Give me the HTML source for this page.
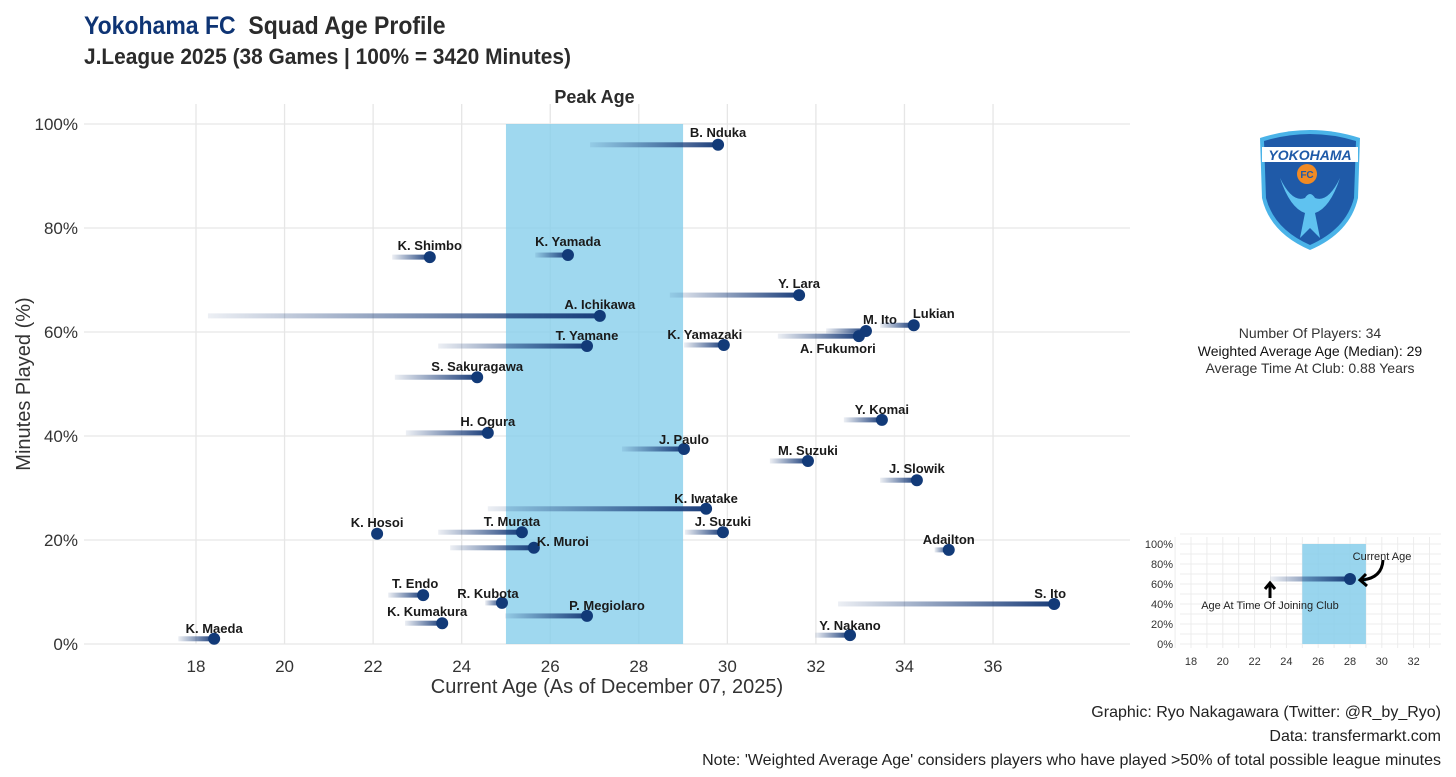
<!DOCTYPE html>
<html><head><meta charset="utf-8"><style>
body{margin:0;background:#fff;width:1456px;height:777px;overflow:hidden;font-family:"Liberation Sans Narrow","Liberation Sans",sans-serif}
svg{display:block}
</style></head><body>
<svg id="chart" width="1456" height="777" viewBox="0 0 1456 777" xmlns="http://www.w3.org/2000/svg">
<defs>
<linearGradient id="fade" x1="0" x2="1" y1="0" y2="0"><stop offset="0" stop-color="#1a3d7a" stop-opacity="0.08"/><stop offset="1" stop-color="#1a3d7a" stop-opacity="1"/></linearGradient>
</defs>
<text xml:space="preserve" x="84" y="34" font-size="25" font-weight="bold" fill="#2b2b2b" transform="translate(84,0) scale(0.92,1) translate(-84,0)"><tspan fill="#0e3474">Yokohama FC</tspan>  Squad Age Profile</text>
<text x="84" y="64" font-size="22" font-weight="bold" fill="#2b2b2b" transform="translate(84,0) scale(0.95,1) translate(-84,0)">J.League 2025 (38 Games | 100% = 3420 Minutes)</text>
<g id="grid"></g>
<g id="band"></g>
<g id="marks"></g>
<g id="axes"></g>
<g id="inset"></g>
<g transform="translate(1260,128)">
<path d="M0,10 Q50,-6 100,10 L98,70 Q90,105 50,122 Q10,105 2,70 Z" fill="#4ab3e8"/>
<path d="M4,13 Q50,-1 96,13 L94,70 Q86,101 50,117 Q14,101 6,70 Z" fill="#1f5aa8"/>
<rect x="2" y="19" width="96" height="15" fill="#fff"/>
<text x="50" y="32" text-anchor="middle" font-size="14" font-weight="bold" font-style="italic" fill="#1f5aa8" font-family="Liberation Sans">YOKOHAMA</text>
<circle cx="47" cy="46" r="10" fill="#f08a24"/>
<text x="47" y="50" text-anchor="middle" font-size="10" font-weight="bold" fill="#1f5aa8" font-family="Liberation Sans">FC</text>
<path d="M20,50 Q30,80 45,85 L40,110 L50,100 L60,110 L55,85 Q70,80 80,50 Q68,75 55,70 Q50,62 45,70 Q32,75 20,50Z" fill="#5fc2f0"/>
</g>
<g font-size="14" fill="#333" text-anchor="middle">
<text x="1310" y="338">Number Of Players: 34</text>
<text x="1310" y="356" fill="#111">Weighted Average Age (Median): 29</text>
<text x="1310" y="373">Average Time At Club: 0.88 Years</text>
</g>
<g font-size="16" fill="#222" text-anchor="end">
<text x="1441" y="717">Graphic: Ryo Nakagawara (Twitter: @R_by_Ryo)</text>
<text x="1441" y="741">Data: transfermarkt.com</text>
<text x="1441" y="765">Note: 'Weighted Average Age' considers players who have played &gt;50% of total possible league minutes</text>
</g>
</svg>
<script>
const players=["B. Nduka","K. Shimbo","K. Yamada","Y. Lara","A. Ichikawa","M. Ito","Lukian","A. Fukumori","T. Yamane","K. Yamazaki","S. Sakuragawa","Y. Komai","H. Ogura","J. Paulo","M. Suzuki","J. Slowik","K. Iwatake","K. Hosoi","T. Murata","J. Suzuki","K. Muroi","Adailton","T. Endo","R. Kubota","S. Ito","K. Kumakura","P. Megiolaro","Y. Nakano","K. Maeda"];
const currentAge=[29.79,23.28,26.4,31.62,27.12,33.13,34.21,32.97,26.83,29.92,24.35,33.49,24.59,29.02,31.82,34.28,29.52,22.09,25.36,29.9,25.63,35.0,23.13,24.91,37.38,23.56,26.83,32.77,18.41];
const joinAge=[26.9,22.43,25.66,28.7,18.27,32.23,33.45,31.14,23.47,29.02,22.49,32.63,22.74,27.62,30.96,33.45,24.59,22.09,23.47,29.04,23.74,34.68,22.34,24.53,32.5,22.72,24.98,31.98,17.6];
const minutesPct=[96,74.4,74.8,67.1,63.1,60.2,61.3,59.2,57.3,57.5,51.3,43.1,40.6,37.5,35.2,31.5,26,21.2,21.5,21.5,18.5,18.1,9.4,7.9,7.7,4.0,5.4,1.7,1.0];
const xTicks=[18,20,22,24,26,28,30,32,34,36];
const yTicks=[0,20,40,60,80,100];
const peakStart=25, peakEnd=29;
// label placement offsets (layout, not data)
const labelDx=[0,0,0,0,0,14,20,-21,0,-19,0,0,0,0,0,0,0,0,-10,0,29,0,-8,-14,-4,-15,20,0,0];
const labelDy=[-12,-11,-13,-11,-11,-11,-11,13,-10,-10,-10,-10,-11,-9,-10,-11,-10,-11,-10,-10,-6,-10,-11,-9,-10,-11,-10,-9,-10];

const NS="http://www.w3.org/2000/svg";
const X=a=>196+(a-18)*44.28;
const Y=p=>644-p*5.2;
function mk(tag,attrs,parent){const e=document.createElementNS(NS,tag);for(const k in attrs)e.setAttribute(k,attrs[k]);parent.appendChild(e);return e;}
const grid=document.getElementById('grid'),band=document.getElementById('band'),marks=document.getElementById('marks'),axes=document.getElementById('axes');
xTicks.forEach(t=>{const l=mk('line',{x1:X(t),x2:X(t),y1:104,y2:644,stroke:'#e6e6e6','stroke-width':1.3},grid);


const tx=mk('text',{x:X(t),y:672,'text-anchor':'middle','font-size':17,fill:'#333'},axes);tx.textContent=t;

});
yTicks.forEach(t=>{const l=mk('line',{x1:84,x2:1130,y1:Y(t),y2:Y(t),stroke:'#e6e6e6','stroke-width':1.3},grid);


const tx=mk('text',{x:78,y:Y(t)+6,'text-anchor':'end','font-size':17,fill:'#333'},axes);tx.textContent=t+'%';

});
const r=mk('rect',{x:X(peakStart),y:Y(100),width:X(peakEnd)-X(peakStart),height:Y(0)-Y(100),fill:'#87ceeb',opacity:0.8},band);


const pl=mk('text',{x:(X(peakStart)+X(peakEnd))/2,y:103,'text-anchor':'middle','font-size':18,'font-weight':'bold',fill:'#2b2b2b'},band);pl.textContent='Peak Age';


players.forEach((n,i)=>{const x0=X(joinAge[i]),x1=X(currentAge[i]),y=Y(minutesPct[i]);
if(x1-x0>1){const ln=mk('rect',{x:x0,y:y-2.5,width:x1-x0,height:5,fill:'url(#fade)'},marks);

}
const c=mk('circle',{cx:x1,cy:y,r:6,fill:'#123a78'},marks);


const t=mk('text',{x:x1+labelDx[i],y:y+labelDy[i]+4,'text-anchor':'middle','font-size':13,'font-weight':'bold',fill:'#1a1a1a','font-family':'Liberation Sans'},marks);t.textContent=n;

});
const xt=mk('text',{x:607,y:693,'text-anchor':'middle','font-size':20,fill:'#333'},axes);xt.textContent='Current Age (As of December 07, 2025)';


const yt=mk('text',{x:30,y:384,'text-anchor':'middle','font-size':20,fill:'#333',transform:'rotate(-90 30 384)'},axes);yt.textContent='Minutes Played (%)';


// inset legend
const insetX=[18,20,22,24,26,28,30,32];
const insetY=[0,20,40,60,80,100];
const ix=a=>1191+(a-18)*15.9, iy=p=>644-p*1.0;
const ins=document.getElementById('inset');
for(let a=17;a<=33;a++){const l=mk('line',{x1:ix(a),x2:ix(a),y1:537,y2:648,stroke:'#ececec','stroke-width':1},ins);

}
for(let p=0;p<=110;p+=10){const l=mk('line',{x1:1180,x2:1441,y1:iy(p),y2:iy(p),stroke:'#ececec','stroke-width':1},ins);

}
const ib=mk('rect',{x:ix(25),y:iy(100),width:ix(29)-ix(25),height:100,fill:'#87ceeb',opacity:0.85},ins);


insetX.forEach(t=>{const tx=mk('text',{x:ix(t),y:665,'text-anchor':'middle','font-size':11,fill:'#333'},ins);tx.textContent=t;

});
insetY.forEach(t=>{const tx=mk('text',{x:1173,y:iy(t)+4,'text-anchor':'end','font-size':11,fill:'#333'},ins);tx.textContent=t+'%';

});
const il=mk('rect',{x:ix(23),y:iy(65)-2.5,width:ix(28)-ix(23),height:5,fill:'url(#fade)'},ins);


const ic=mk('circle',{cx:ix(28),cy:iy(65),r:6,fill:'#123a78'},ins);


const a1=mk('path',{d:'M1383,560 Q1382,578 1362,580 M1366,574 L1360,580 L1367,586',stroke:'#000','stroke-width':3,fill:'none'},ins);


const a2=mk('path',{d:'M1270,598 L1270,584 M1265,589 L1270,583 L1275,589',stroke:'#000','stroke-width':3,fill:'none'},ins);


const t1=mk('text',{x:1382,y:560,'text-anchor':'middle','font-size':11,fill:'#222'},ins);t1.textContent='Current Age';


const t2=mk('text',{x:1270,y:609,'text-anchor':'middle','font-size':11,fill:'#222'},ins);t2.textContent='Age At Time Of Joining Club';


</script>
</body></html>
